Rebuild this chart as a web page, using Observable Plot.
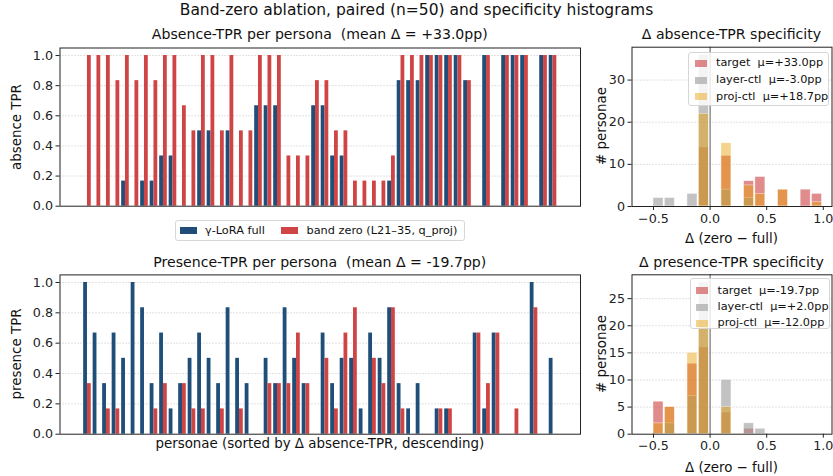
<!DOCTYPE html>
<html><head><meta charset="utf-8">
<script src="https://cdn.jsdelivr.net/npm/d3@7"></script>
<script src="https://cdn.jsdelivr.net/npm/@observablehq/plot@0.6"></script>
<style>
body{margin:0;background:#fff;}
#root{position:relative;width:833px;height:476px;font-family:"DejaVu Sans",sans-serif;color:#111;overflow:hidden;background:#fff}
.t{position:absolute;white-space:pre;transform:translate(-50%,-50%);line-height:1}
.rot{transform:translate(-50%,-50%) rotate(-90deg)}
.panel{position:absolute}
.leg{position:absolute;background:rgba(255,255,255,0.82);border:1px solid #d6d6d6;border-radius:3px;box-sizing:border-box;font-size:11.3px}
.sw{position:absolute}
.lt{position:absolute;white-space:pre;line-height:1;transform:translateY(-50%)}
</style>
</head><body>
<div id="root"></div>
<script>
// ---- data ----
const s = 1/6;
// absence TPR per persona (sorted by Δ absence-TPR, descending)
const absenceFull = [0,0,0,0,s,0,s,s,2*s,2*s, 0,0,3*s,3*s,0,3*s,0,0,4*s,4*s, 4*s,0,0,0,4*s,4*s,2*s,2*s,0,0, 0,0,s,5*s,5*s,5*s,1,1,1,1, 5*s,0,1,0,1,1,1,0,1,1];
const absenceZero = [1,1,1,5*s,1,5*s,1,5*s,1,1, 4*s,3*s,1,1,3*s,1,3*s,3*s,1,1, 1,2*s,2*s,2*s,5*s,5*s,3*s,3*s,s,s, s,s,2*s,1,1,1,1,1,1,1, 5*s,0,1,0,1,1,1,0,1,1];
// presence TPR per persona (same order)
const presenceFull = [1,4*s,2*s,4*s,3*s,1,5*s,2*s,4*s,s, 2*s,3*s,4*s,3*s,2*s,5*s,3*s,2*s,0,3*s, 2*s,5*s,3*s,2*s,0,4*s,2*s,3*s,3*s,s, 4*s,3*s,5*s,2*s,s,2*s,0,s,s,0, 0,4*s,s,4*s,0,0,0,1,0,3*s];
const presenceZero = [2*s,0,s,s,0,0,0,s,2*s,0, 2*s,s,s,0,s,0,s,0,0,2*s, 2*s,2*s,4*s,2*s,0,3*s,s,4*s,5*s,0, 3*s,2*s,5*s,s,0,0,0,s,s,0, 0,4*s,2*s,4*s,0,s,0,5*s,0,0];
const yTicksBar = [0,0.2,0.4,0.6,0.8,1.0];

// histogram bins (lower edges, width 0.1) and counts
const binStart = [-0.5,-0.4,-0.3,-0.2,-0.1,0.0,0.1,0.2,0.3,0.4,0.5,0.6,0.7,0.8,0.9];
const absTarget = [0,0,0,0,14,0,12,0,6,7,0,4,0,4,3];
const absLayer  = [2,2,0,3,36,0,4,0,2,0,0,0,0,0,0];
const absProj   = [0,0,0,0,22,0,15,0,5,3,0,4,0,0,1];
const preTarget = [6,5,0,13,16,0,4,0,1,0,0,0,0,0,0];
const preLayer  = [0,2,0,7,28,0,10,0,2,1,0,0,0,0,0];
const preProj   = [2,5,0,15,20,0,5,0,0,0,0,0,0,0,0];
const absTicks = [0,10,20,30];
const preTicks = [0,5,10,15,20,25];
const histXTicks = [-0.5,0,0.5,1.0];

const BLUE = "#1f4e79", RED = "#cf4545", GRAY = "#9a9a9a", ORANGE = "#e69f00";
const FONT = "DejaVu Sans";
const root = document.getElementById("root");

function place(el, left, top){ el.classList.add("panel"); el.style.left = left+"px"; el.style.top = top+"px"; root.appendChild(el); }
function text(str, x, y, size, rot){ const d=document.createElement("div"); d.className="t"+(rot?" rot":""); d.textContent=str; d.style.left=x+"px"; d.style.top=y+"px"; d.style.fontSize=size+"px"; root.appendChild(d); }
const fmt1 = d => d.toFixed(1).replace("-", "\u2212");
const grid = (ticks) => Plot.gridY(ticks.filter(t=>t>0), {stroke:"#b5b5b5", strokeOpacity:0.8, strokeDasharray:"1,2", strokeWidth:1});

function barPanel(full, zero, mt, mb){
  const rows = full.map((f,i)=>({i, full:f, zero:zero[i]}));
  return Plot.plot({
    width: 600, height: 185, marginLeft: 59.5, marginRight: 20, marginTop: mt, marginBottom: mb,
    style: {fontFamily: FONT, fontSize: "12.7px", color: "#222", background: "transparent", overflow: "visible"},
    x: {domain: [-2.89, 51.89], axis: null},
    y: {domain: [0, 1.05], axis: null},
    marks: [
      grid(yTicksBar),
      Plot.rect(rows.filter(d=>d.full>0), {x1: d=>d.i-0.4, x2: d=>d.i, y1: 0, y2: "full", fill: BLUE, inset: 0}),
      Plot.rect(rows.filter(d=>d.zero>0), {x1: d=>d.i, x2: d=>d.i+0.4, y1: 0, y2: "zero", fill: RED, inset: 0}),
      Plot.frame({stroke: "#222", strokeWidth: 1}),
      Plot.axisY({ticks: yTicksBar, tickFormat: fmt1, tickSize: 4, tickPadding: 3, label: null})
    ]
  });
}

function histPanel(tg, ly, pj, yticks, mt, mb){
  const rows = binStart.map((x0,k)=>({x0, tg: tg[k], ly: ly[k], pj: pj[k]}));
  const ymax = Math.max(...tg, ...ly, ...pj) * 1.05;
  const layer = (key, color, op) => Plot.rect(rows.filter(d=>d[key]>0), {x1: "x0", x2: d=>d.x0+0.1, y1: 0, y2: key, fill: color, fillOpacity: op, stroke: "white", strokeOpacity: 0.7, strokeWidth: 0.6, insetLeft: 0, insetRight: 1.3});
  return Plot.plot({
    width: 233, height: 200, marginLeft: 31.5, marginRight: 1.5, marginTop: mt, marginBottom: mb,
    style: {fontFamily: FONT, fontSize: "12.7px", color: "#222", background: "transparent", overflow: "visible"},
    x: {domain: [-0.69, 1.077], axis: null},
    y: {domain: [0, ymax], axis: null},
    marks: [
      grid(yticks),
      layer("tg", RED, 0.62),
      layer("ly", GRAY, 0.6),
      layer("pj", ORANGE, 0.45),
      Plot.ruleX([0], {stroke: "#444", strokeWidth: 0.9}),
      Plot.frame({stroke: "#222", strokeWidth: 1}),
      Plot.axisX({ticks: histXTicks, tickFormat: fmt1, tickSize: 4, tickPadding: 3, label: null}),
      Plot.axisY({ticks: yticks, tickFormat: d=>String(d), tickSize: 4, tickPadding: 3, label: null})
    ]
  });
}

place(barPanel(absenceFull, absenceZero, 7.5, 19.3), 0, 40);
place(barPanel(presenceFull, presenceZero, 6.4, 19.3), 0, 268);
place(histPanel(absTarget, absLayer, absProj, absTicks, 6.7, 34), 600, 40);
place(histPanel(preTarget, preLayer, preProj, preTicks, 6.3, 34.3), 600, 268);

// texts
text("Band-zero ablation, paired (n=50) and specificity histograms", 416.5, 11, 15.5);
text("Absence-TPR per persona  (mean \u0394 = +33.0pp)", 319.8, 33.5, 14.1);
text("Presence-TPR per persona  (mean \u0394 = -19.7pp)", 319.8, 261.5, 14.1);
text("\u0394 absence-TPR specificity", 731.5, 33.5, 14.1);
text("\u0394 presence-TPR specificity", 731.5, 261.5, 14.1);
text("absence TPR", 17, 126.6, 13.4, true);
text("presence TPR", 17, 354, 13.4, true);
text("# personae", 602, 126.4, 13.4, true);
text("# personae", 602, 354, 13.4, true);
text("personae (sorted by \u0394 absence-TPR, descending)", 319.8, 444, 13.4);
text("\u0394 (zero \u2212 full)", 731.5, 239, 13.4);
text("\u0394 (zero \u2212 full)", 731.5, 468, 13.4);

// legends
function legend(left, top, w, h, items){
  const d = document.createElement("div"); d.className="leg";
  Object.assign(d.style, {left:left+"px", top:top+"px", width:w+"px", height:h+"px"});
  items.forEach(it=>{
    const sw=document.createElement("div"); sw.className="sw";
    Object.assign(sw.style,{left:it.sx+"px", top:(it.cy-it.sh/2)+"px", width:it.sw+"px", height:it.sh+"px", background:it.color});
    const t=document.createElement("div"); t.className="lt"; t.textContent=it.label;
    Object.assign(t.style,{left:it.tx+"px", top:it.cy+"px"});
    d.appendChild(sw); d.appendChild(t);
  });
  root.appendChild(d);
}
const rgba = (hex, a) => { const c=d3.color(hex); c.opacity=a; return c.formatRgb(); };
legend(175, 220, 290, 21, [
  {label:"\u03b3-LoRA full", color: BLUE, sx:4, sw:17, sh:7, tx:29, cy:9.5},
  {label:"band zero (L21\u201335, q_proj)", color: RED, sx:105, sw:17, sh:7, tx:130.5, cy:9.5}
]);
const absLabels = ["target  \u03bc=+33.0pp", "layer-ctl  \u03bc=-3.0pp", "proj-ctl  \u03bc=+18.7pp"];
const preLabels = ["target  \u03bc=-19.7pp", "layer-ctl  \u03bc=+2.0pp", "proj-ctl  \u03bc=-12.0pp"];
const histColors = [rgba(RED,0.62), rgba(GRAY,0.6), rgba(ORANGE,0.45)];
legend(688, 52, 141, 54, absLabels.map((l,k)=>({label:l, color:histColors[k], sx:6, sw:12, sh:7, tx:27, cy:10.3+k*16.7})));
legend(690, 278, 140, 51, preLabels.map((l,k)=>({label:l, color:histColors[k], sx:5, sw:12, sh:7, tx:26.5, cy:11.7+k*16.3})));
</script>
</body></html>
